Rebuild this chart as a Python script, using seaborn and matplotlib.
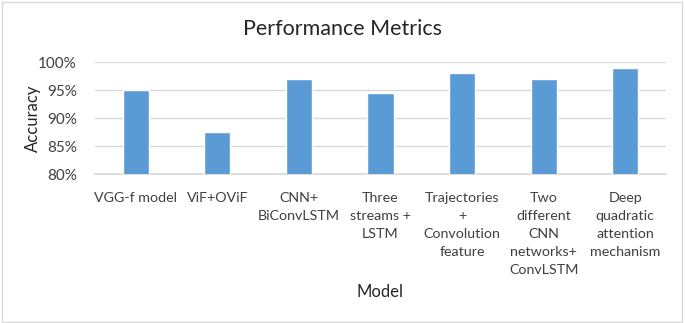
import matplotlib
matplotlib.use("Agg")
import matplotlib.pyplot as plt
import matplotlib.patches as mpatches
import seaborn as sns
import pandas as pd
from matplotlib.ticker import FuncFormatter

models = ["VGG-f model", "ViF+OViF", "CNN+\nBiConvLSTM", "Three\nstreams +\nLSTM",
          "Trajectories\n+\nConvolution\nfeature", "Two\ndifferent\nCNN\nnetworks+\nConvLSTM",
          "Deep\nquadratic\nattention\nmechanism"]
accuracy = [95.0, 87.5, 97.0, 94.6, 98.0, 97.0, 99.0]

df = pd.DataFrame({"Model": models, "Accuracy": accuracy})

sns.set_theme(style="white")
plt.rcParams['font.family'] = ['Lato', 'DejaVu Sans']

fig = plt.figure(figsize=(6.85, 3.23), dpi=100)
ax = fig.add_axes([95/685, 1-174.3/323, (666-95)/685, (174.3-62.3)/323])

sns.barplot(data=df, x="Model", y="Accuracy", color="#5B9BD5", width=0.32,
            saturation=1, ax=ax, zorder=3)

ax.set_ylim(80, 100)
ax.set_yticks([80, 85, 90, 95, 100])
ax.yaxis.set_major_formatter(FuncFormatter(lambda v, p: f"{v:.0f}%"))
ax.grid(axis="y", color="#D9D9D9", linewidth=1, zorder=0)
ax.set_axisbelow(True)
for s in ["top", "right", "left"]:
    ax.spines[s].set_visible(False)
ax.spines["bottom"].set_color("#D9D9D9")
ax.tick_params(axis="y", length=0, labelsize=11, colors="#404040", pad=13)
ax.tick_params(axis="x", length=0, labelsize=10.3, colors="#404040", pad=13)
for lbl in ax.get_xticklabels():
    lbl.set_linespacing(1.58)

ax.set_xlabel("Model", fontsize=12, color="#262626", labelpad=6)
ax.set_ylabel("Accuracy", fontsize=12, color="#262626")
ax.yaxis.set_label_coords(-0.094, 0.5)
fig.text(0.5, 1-29/323, "Performance Metrics", ha="center", va="center",
         fontsize=15.5, color="#262626")

fig.patches.append(mpatches.Rectangle((0.003, 0.004), 0.993, 0.99, transform=fig.transFigure,
                                      fill=False, edgecolor="#D9D9D9", linewidth=1))

fig.savefig("out.png", dpi=100)
